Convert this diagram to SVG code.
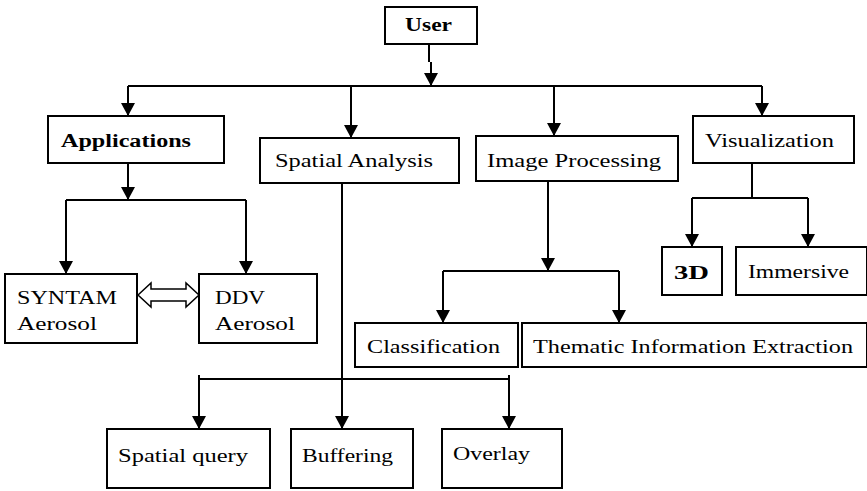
<svg xmlns="http://www.w3.org/2000/svg" width="867" height="491" viewBox="0 0 867 491" font-family="Liberation Serif, DejaVu Serif, serif">
<defs>
<marker id="ah" markerUnits="userSpaceOnUse" markerWidth="14" markerHeight="14" refX="13" refY="7" orient="auto">
<path d="M0,0 L13,7 L0,14 z" fill="#000"/>
</marker>
<style>
.box{fill:#fff;stroke:#000;stroke-width:2}
.t{font-size:18px;fill:#000}
.b{font-weight:bold}
.c{fill:none;stroke:#000;stroke-width:2}
</style>
</defs>
<rect width="867" height="491" fill="#fff"/>
<g id="connectors">
<path class="c" d="M429,44 V62"/>
<path class="c" d="M431,62 V86" marker-end="url(#ah)"/>
<path class="c" d="M128,86 H762"/>
<path class="c" d="M128,86 V116" marker-end="url(#ah)"/>
<path class="c" d="M351,86 V138" marker-end="url(#ah)"/>
<path class="c" d="M554,86 V136" marker-end="url(#ah)"/>
<path class="c" d="M762,86 V116" marker-end="url(#ah)"/>
<path class="c" d="M128,163 V200" marker-end="url(#ah)"/>
<path class="c" d="M66,200 H246"/>
<path class="c" d="M66,200 V274" marker-end="url(#ah)"/>
<path class="c" d="M246,200 V274" marker-end="url(#ah)"/>
<path class="c" d="M342,183 V429" marker-end="url(#ah)"/>
<path class="c" d="M199,379 H509"/>
<path class="c" d="M199,375 V429" marker-end="url(#ah)"/>
<path class="c" d="M509,375 V429" marker-end="url(#ah)"/>
<path class="c" d="M548,181 V271" marker-end="url(#ah)"/>
<path class="c" d="M443,271 H619"/>
<path class="c" d="M443,271 V323" marker-end="url(#ah)"/>
<path class="c" d="M619,271 V323" marker-end="url(#ah)"/>
<path class="c" d="M752,163 V198"/>
<path class="c" d="M692,198 H808"/>
<path class="c" d="M692,198 V247" marker-end="url(#ah)"/>
<path class="c" d="M808,198 V247" marker-end="url(#ah)"/>
<polygon points="138,295 151,283 151,289 186,289 186,283 199,295 186,307 186,301 151,301 151,307" fill="#fff" stroke="#000" stroke-width="1.5"/>
</g>
<g id="user">
<rect class="box" x="385" y="7" width="92" height="37"/>
<text class="t b" x="405" y="31" textLength="47" lengthAdjust="spacingAndGlyphs">User</text>
</g>
<g id="applications">
<rect class="box" x="48" y="116" width="176" height="47"/>
<text class="t b" x="61" y="147" textLength="130" lengthAdjust="spacingAndGlyphs">Applications</text>
</g>
<g id="spatial-analysis">
<rect class="box" x="260" y="138" width="199" height="45"/>
<text class="t" x="275" y="167" textLength="158" lengthAdjust="spacingAndGlyphs">Spatial Analysis</text>
</g>
<g id="image-processing">
<rect class="box" x="476" y="136" width="202" height="45"/>
<text class="t" x="487" y="167" textLength="174" lengthAdjust="spacingAndGlyphs">Image Processing</text>
</g>
<g id="visualization">
<rect class="box" x="693" y="116" width="161" height="47"/>
<text class="t" x="705" y="147" textLength="129" lengthAdjust="spacingAndGlyphs">Visualization</text>
</g>
<g id="syntam">
<rect class="box" x="5" y="274" width="132" height="69"/>
<text class="t" x="17" y="304" textLength="100" lengthAdjust="spacingAndGlyphs">SYNTAM</text>
<text class="t" x="17" y="330" textLength="80" lengthAdjust="spacingAndGlyphs">Aerosol</text>
</g>
<g id="ddv">
<rect class="box" x="199" y="274" width="118" height="69"/>
<text class="t" x="215" y="304" textLength="50" lengthAdjust="spacingAndGlyphs">DDV</text>
<text class="t" x="215" y="330" textLength="80" lengthAdjust="spacingAndGlyphs">Aerosol</text>
</g>
<g id="classification">
<rect class="box" x="355" y="323" width="163" height="44"/>
<text class="t" x="367" y="353" textLength="133" lengthAdjust="spacingAndGlyphs">Classification</text>
</g>
<g id="thematic">
<rect class="box" x="522" y="323" width="345" height="44"/>
<text class="t" x="533" y="353" textLength="320" lengthAdjust="spacingAndGlyphs">Thematic Information Extraction</text>
</g>
<g id="three-d">
<rect class="box" x="662" y="247" width="60" height="48"/>
<text class="t b" x="674" y="279" font-size="22" textLength="35" lengthAdjust="spacingAndGlyphs">3D</text>
</g>
<g id="immersive">
<rect class="box" x="736" y="247" width="131" height="48"/>
<text class="t" x="748" y="278" textLength="101" lengthAdjust="spacingAndGlyphs">Immersive</text>
</g>
<g id="spatial-query">
<rect class="box" x="107" y="429" width="163" height="59"/>
<text class="t" x="118" y="462" textLength="130" lengthAdjust="spacingAndGlyphs">Spatial query</text>
</g>
<g id="buffering">
<rect class="box" x="291" y="429" width="122" height="59"/>
<text class="t" x="302" y="462" textLength="91" lengthAdjust="spacingAndGlyphs">Buffering</text>
</g>
<g id="overlay">
<rect class="box" x="442" y="429" width="120" height="59"/>
<text class="t" x="453" y="460" textLength="77" lengthAdjust="spacingAndGlyphs">Overlay</text>
</g>
</svg>
